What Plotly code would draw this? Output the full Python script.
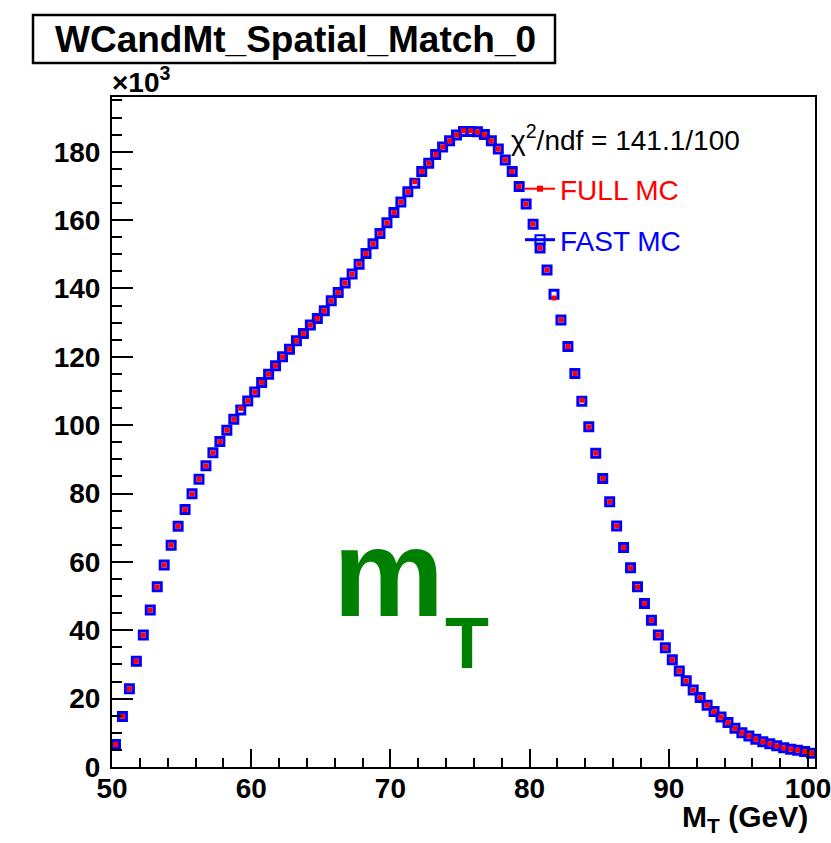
import numpy as np
import plotly.graph_objects as go

# Histogram binning of the transverse mass (GeV)
n_bins = 101
mt_low, mt_high = 50.0, 100.5
mt_centers = mt_low + (np.arange(n_bins) + 0.5) * (mt_high - mt_low) / n_bins

# Bin contents, in units of 10^3 entries
full_mc = [
    6.6, 14.8, 22.9, 30.9, 38.6, 45.9, 52.7, 59.1, 64.9, 70.4,
    75.3, 79.9, 84.2, 88.1, 91.9, 95.2, 98.5, 101.7, 104.9, 107.1,
    109.7, 112.5, 114.9, 117.4, 120.0, 122.2, 124.7, 126.8, 129.3, 131.2,
    133.5, 136.4, 138.8, 141.6, 144.2, 147.1, 150.2, 153.1, 156.1, 159.2,
    162.2, 165.3, 168.3, 171.2, 174.2, 176.6, 179.2, 181.4, 183.2, 184.9,
    186.1, 186.1, 185.8, 185.0, 183.2, 180.8, 177.6, 174.2, 169.8, 164.7,
    158.8, 151.8, 145.4, 137.2, 130.8, 123.0, 115.1, 107.3, 99.5, 91.8,
    84.4, 77.6, 70.5, 64.2, 58.3, 52.7, 47.8, 42.9, 38.6, 34.9,
    31.4, 28.1, 25.2, 22.5, 20.3, 18.1, 16.2, 14.6, 13.0, 11.3,
    10.0, 9.1, 8.1, 7.4, 6.8, 6.2, 5.6, 5.2, 4.9, 4.5,
    4.0,
]
fast_mc = [
    6.6, 14.8, 22.9, 30.9, 38.6, 45.9, 52.7, 59.1, 64.9, 70.4,
    75.3, 79.9, 84.2, 88.1, 91.9, 95.2, 98.5, 101.7, 104.4, 107.1,
    109.7, 112.5, 114.9, 117.4, 120.0, 122.2, 124.7, 126.8, 129.3, 131.2,
    133.5, 136.4, 138.8, 141.6, 144.2, 147.1, 150.2, 153.1, 156.1, 159.2,
    162.2, 165.3, 168.3, 170.8, 174.2, 176.6, 179.2, 181.4, 183.2, 184.9,
    185.9, 185.9, 185.8, 185.0, 183.2, 180.8, 177.6, 174.2, 169.8, 164.7,
    158.8, 151.8, 145.4, 138.3, 130.8, 123.0, 115.1, 107.0, 99.5, 91.8,
    84.4, 77.6, 70.5, 64.2, 58.3, 52.7, 47.8, 42.9, 38.6, 34.9,
    31.4, 28.1, 25.2, 22.5, 20.3, 18.1, 16.2, 14.6, 13.0, 11.3,
    10.0, 9.1, 8.1, 7.4, 6.8, 6.2, 5.6, 5.2, 4.9, 4.5,
    4.0,
]

chi2_text = "χ<sup>2</sup>/ndf = 141.1/100"
hist_title = "WCandMt_Spatial_Match_0"

W, H = 831, 843
M_L, M_R, M_T, M_B = 112, 16, 97, 76
PW, PH = W - M_L - M_R, H - M_T - M_B
FONT = "Liberation Sans, Arial, Helvetica, sans-serif"


def px(xp):
    return (xp - M_L) / PW


def py(yp):
    return (H - M_B - yp) / PH


BLUE = "rgb(0,0,255)"
RED = "rgb(255,0,0)"
GREEN = "rgb(0,128,0)"

fig = go.Figure()

fig.add_trace(go.Scatter(
    x=mt_centers, y=fast_mc, mode="markers", showlegend=False,
    marker=dict(symbol="square-open", size=8, color=BLUE,
                line=dict(width=3, color=BLUE)),
))
fig.add_trace(go.Scatter(
    x=mt_centers, y=full_mc, mode="markers", showlegend=False,
    marker=dict(symbol="square", size=5, color=RED, line=dict(width=0)),
))

# legend entries
fig.add_trace(go.Scatter(
    x=[None], y=[None], mode="lines+markers", name="FULL MC", legend="legend",
    line=dict(color=RED, width=2),
    marker=dict(symbol="square", size=6, color=RED, line=dict(width=0)),
))
fig.add_trace(go.Scatter(
    x=[None], y=[None], mode="lines+markers", name="FAST MC", legend="legend2",
    line=dict(color=BLUE, width=3),
    marker=dict(symbol="square-open", size=9, color=BLUE, line=dict(width=2, color=BLUE)),
))

axis_common = dict(
    showline=True, linewidth=2, linecolor="black", mirror=True,
    ticks="inside", tickwidth=2, tickcolor="black", automargin=False,
    showgrid=False, zeroline=False, ticklabeloverflow="allow",
    tickfont=dict(family=FONT, size=28, color="black", weight="bold"),
)

fig.update_layout(
    width=W, height=H, autosize=False,
    margin=dict(l=M_L, r=M_R, t=M_T, b=M_B, pad=0, autoexpand=False),
    paper_bgcolor="white", plot_bgcolor="white",
    font=dict(family=FONT, color="black"),
    xaxis=dict(range=[mt_low, mt_high], tick0=50, dtick=10, ticklen=18,
               minor=dict(dtick=2, ticklen=9, ticks="inside", tickwidth=2, tickcolor="black"),
               ticklabelstandoff=-5,
               **axis_common),
    yaxis=dict(range=[0, 196], tick0=0, dtick=20, ticklen=21,
               minor=dict(dtick=5, ticklen=10, ticks="inside", tickwidth=2, tickcolor="black"),
               ticklabelstandoff=4,
               **axis_common),
    legend=dict(x=px(520), y=py(189), xanchor="left", yanchor="middle",
                bgcolor="rgba(0,0,0,0)", itemwidth=30,
                font=dict(family=FONT, size=28, color=RED)),
    legend2=dict(x=px(520), y=py(240), xanchor="left", yanchor="middle",
                 bgcolor="rgba(0,0,0,0)", itemwidth=30,
                 font=dict(family=FONT, size=28, color=BLUE)),
    shapes=[
        dict(type="rect", xref="paper", yref="paper",
             x0=px(33), x1=px(555), y0=py(63), y1=py(15),
             line=dict(color="black", width=2.5), fillcolor="white", layer="below"),
    ],
    annotations=[
        dict(text=f"<b>{hist_title}</b>", x=px(295), y=py(39), xref="paper", yref="paper",
             xanchor="center", yanchor="middle", showarrow=False,
             font=dict(family=FONT, size=37, color="black")),
        dict(text="<b>×10<sup>3</sup></b>", x=px(110), y=py(80), xref="paper", yref="paper",
             xanchor="left", yanchor="middle", showarrow=False,
             font=dict(family=FONT, size=28, color="black")),
        dict(text=chi2_text, x=px(509), y=py(138), xref="paper", yref="paper",
             xanchor="left", yanchor="middle", showarrow=False,
             font=dict(family=FONT, size=28, color="black")),
        dict(text="<b>m</b>", x=px(388), y=py(572), xref="paper", yref="paper",
             xanchor="center", yanchor="middle", showarrow=False,
             font=dict(family=FONT, size=125, color=GREEN)),
        dict(text="<b>T</b>", x=px(467), y=py(643), xref="paper", yref="paper",
             xanchor="center", yanchor="middle", showarrow=False,
             font=dict(family=FONT, size=72, color=GREEN)),
        dict(text="<b>M<sub>T</sub> (GeV)</b>", x=px(810), y=py(818), xref="paper", yref="paper",
             xanchor="right", yanchor="middle", showarrow=False,
             font=dict(family=FONT, size=30, color="black")),
    ],
)

fig.write_html("out.html")
